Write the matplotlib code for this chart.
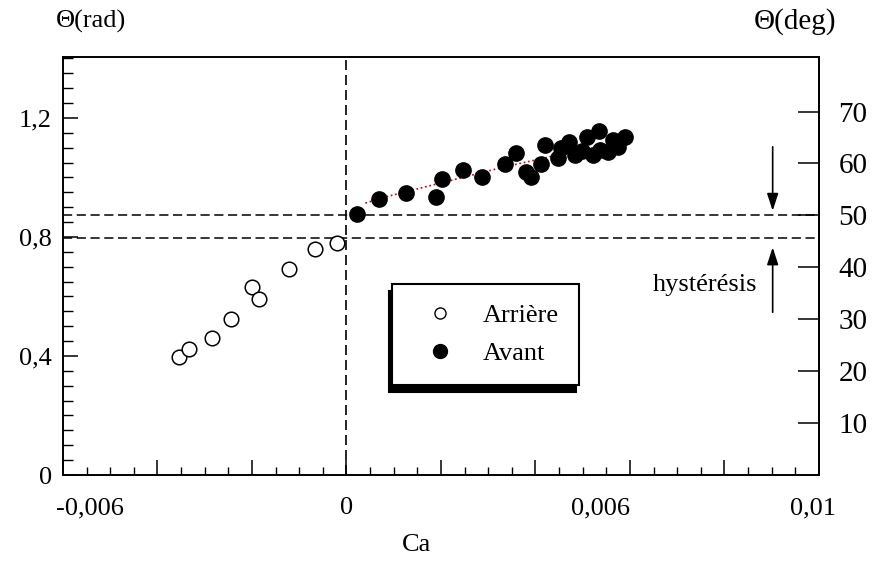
import numpy as np
import matplotlib
matplotlib.use("Agg")
import matplotlib.pyplot as plt
from matplotlib.lines import Line2D
from matplotlib.ticker import MultipleLocator, FixedLocator, NullFormatter

plt.rcParams['font.family'] = ['Liberation Serif', 'DejaVu Serif']
plt.rcParams['font.size'] = 19

# receding contact line (Arriere)
ca_arriere = [-0.00355, -0.00333, -0.00284, -0.00244, -0.00199, -0.00186, -0.00122, -0.00066, -0.00021]
theta_arriere = [0.397, 0.424, 0.460, 0.525, 0.631, 0.593, 0.692, 0.761, 0.779]

# advancing contact line (Avant)
ca_avant = [0.00023, 0.00068, 0.00127, 0.00189, 0.00202, 0.00246, 0.00287, 0.00336, 0.00359,
            0.00380, 0.00391, 0.00412, 0.00420, 0.00448, 0.00454, 0.00471, 0.00484, 0.00499,
            0.00510, 0.00522, 0.00535, 0.00537, 0.00554, 0.00565, 0.00575, 0.00590]
theta_avant = [0.877, 0.928, 0.948, 0.934, 0.995, 1.025, 1.002, 1.045, 1.082,
               1.018, 1.002, 1.045, 1.109, 1.066, 1.099, 1.119, 1.076, 1.089,
               1.136, 1.076, 1.156, 1.092, 1.086, 1.126, 1.103, 1.136]

# fitted curve (dotted red, mostly hidden under the markers)
ca_fit = [0.00040, 0.00081, 0.00333, 0.00457, 0.00486, 0.00518, 0.00554, 0.00588]
theta_fit = [0.914, 0.934, 1.035, 1.079, 1.089, 1.099, 1.106, 1.119]

# hysteresis limits (rad)
theta_lim_avant = 0.873
theta_lim_arriere = 0.797

xticks = [-0.006, 0, 0.006, 0.01]
xticklabels = ['-0,006', '0', '0,006', '0,01']
yticks = [0, 0.4, 0.8, 1.2]
yticklabels = ['0', '0,4', '0,8', '1,2']
deg_ticks = [10, 20, 30, 40, 50, 60, 70]

fig = plt.figure(figsize=(8.76, 5.63), dpi=100)
ax = fig.add_axes([0.0719, 0.1563, 0.8630, 0.7425])
ax.set_xlim(-0.006, 0.01)
ax.set_ylim(0, 1.405)

ax.axvline(0, color='k', lw=1.2, ls=(0, (6, 3)), zorder=1)
ax.axhline(theta_lim_avant, color='k', lw=1.1, ls=(0, (6, 3)), zorder=1)
ax.axhline(theta_lim_arriere, color='k', lw=1.1, ls=(0, (6, 3)), zorder=1)

ax.plot(ca_fit, theta_fit, ls=':', color='#cc0000', lw=1.2, zorder=2)
ax.plot(ca_arriere, theta_arriere, 'o', ms=10.5, mfc='white', mec='k', mew=1.1, zorder=3)
ax.plot(ca_avant, theta_avant, 'o', ms=11, mfc='k', mec='k', zorder=3)

for s in ax.spines.values():
    s.set_linewidth(1.4)

# x axis ticks
ax.xaxis.set_major_locator(MultipleLocator(0.002))
ax.xaxis.set_minor_locator(MultipleLocator(0.0005))
ax.xaxis.set_major_formatter(NullFormatter())
ax.tick_params(axis='x', which='major', direction='in', length=11, width=1.1, top=False)
ax.tick_params(axis='x', which='minor', direction='in', length=6, width=1.0, top=False)
for x, lab, ha, dx in zip(xticks, xticklabels, ['left', 'center', 'right', 'center'], [-7, 0, 0, -6]):
    ax.annotate(lab, xy=(x, 0), xycoords=('data', 'axes fraction'),
                xytext=(dx, -22), textcoords='offset pixels', ha=ha, va='top')

# left axis ticks
ax.yaxis.set_major_locator(FixedLocator(yticks))
ax.yaxis.set_minor_locator(MultipleLocator(0.05))
ax.set_yticklabels(yticklabels)
ax.tick_params(axis='y', which='major', direction='in', length=11, width=1.1, right=False, pad=8)
ax.tick_params(axis='y', which='minor', direction='in', length=7, width=1.0, right=False)

# right axis in degrees
sec = ax.secondary_yaxis('right', functions=(np.degrees, np.radians))
sec.set_yticks(deg_ticks)
sec.tick_params(direction='in', length=15, width=1.1, pad=14, labelsize=21)
sec.spines['right'].set_linewidth(1.4)

fig.text(0.104, 0.962, 'Θ(rad)', ha='center', va='center', fontsize=19)
fig.text(0.907, 0.962, 'Θ(deg)', ha='center', va='center', fontsize=21)
fig.text(0.476, 0.032, 'Ca', ha='center', va='center', fontsize=19)

# hysteresis arrows
arr = dict(arrowstyle='-|>,head_width=0.18,head_length=0.55', color='k', lw=1.2, shrinkA=0, shrinkB=0)
ax.annotate('', xy=(0.00902, theta_lim_avant + 0.015), xytext=(0.00902, theta_lim_avant + 0.23),
            arrowprops=arr)
ax.annotate('', xy=(0.00902, theta_lim_arriere - 0.032), xytext=(0.00902, theta_lim_arriere - 0.25),
            arrowprops=arr)
ax.text(0.0087, 0.638, 'hystérésis', ha='right', va='center', fontsize=19)

handles = [Line2D([], [], ls='', marker='o', ms=8, mfc='white', mec='k', mew=1.0),
           Line2D([], [], ls='', marker='o', ms=10, mfc='k', mec='k')]
leg = ax.legend(handles, ['Arrière', 'Avant'], loc='center',
                bbox_to_anchor=(0.559, 0.336), frameon=True, fancybox=False,
                edgecolor='k', borderpad=0.75, labelspacing=0.55, handlelength=2.1,
                handletextpad=0.6, fontsize=19,
                shadow={'color': 'k', 'alpha': 1.0, 'ox': -2, 'oy': -5})
leg.get_frame().set_linewidth(1.5)
leg.get_frame().set_alpha(1.0)

fig.savefig('out.png', dpi=100)
